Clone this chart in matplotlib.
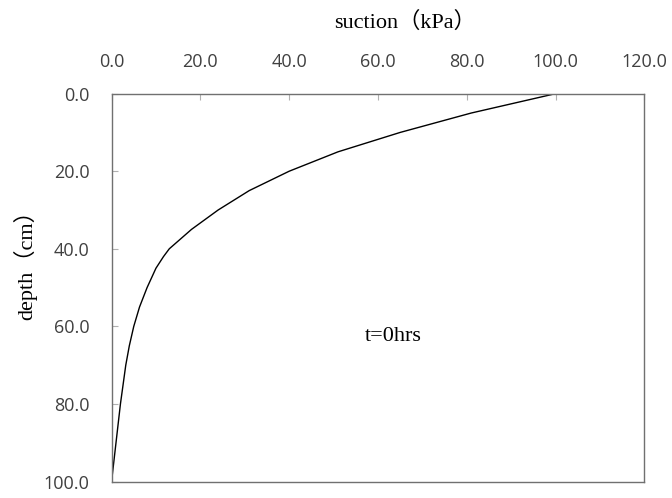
import matplotlib
matplotlib.use("Agg")
import matplotlib.pyplot as plt

# suction profile at t=0
depth = [0, 5, 10, 15, 20, 25, 30, 35, 38, 40, 42, 45, 50, 55, 60, 65, 70, 80, 90, 100]
suction = [100, 81, 65, 51, 40, 31, 24, 18, 15, 13, 11.7, 10, 8, 6.3, 5, 4, 3.2, 2, 1, 0]

x_ticks = [0, 20, 40, 60, 80, 100, 120]
y_ticks = [0, 20, 40, 60, 80, 100]

serif = ['Liberation Serif', 'Noto Sans CJK SC']

fig = plt.figure(figsize=(6.72, 4.98), dpi=100)
ax = fig.add_axes([0.166, 0.033, 0.793, 0.779])

ax.plot(suction, depth, color='black', linewidth=1.0)

ax.set_xlim(0, 120)
ax.set_ylim(100, 0)
ax.xaxis.tick_top()
ax.set_xticks(x_ticks)
ax.set_yticks(y_ticks)
ax.set_xticklabels([f"{v:.1f}" for v in x_ticks])
ax.set_yticklabels([f"{v:.1f}" for v in y_ticks])
ax.tick_params(direction='in', length=4, width=0.8, color='#b0b0b0',
               labelsize=13, labelcolor='#404040')
ax.tick_params(axis='x', pad=16)
ax.tick_params(axis='y', pad=16)
for lab in ax.get_xticklabels() + ax.get_yticklabels():
    lab.set_family(['Open Sans', 'DejaVu Sans'])

for sp in ax.spines.values():
    sp.set_color('#707070')
    sp.set_linewidth(1.0)

fig.text(405 / 672, 1 - 22 / 498, "suction（kPa）", ha='center', va='center',
         fontsize=16, family=serif)
fig.text(25 / 672, 1 - 260 / 498, "depth（cm）", ha='center', va='center',
         rotation=90, fontsize=16, family=serif)

ax.text(57, 62.7, "t=0hrs", ha='left', va='center', fontsize=16, family=serif)

fig.savefig("out.png", dpi=100)
